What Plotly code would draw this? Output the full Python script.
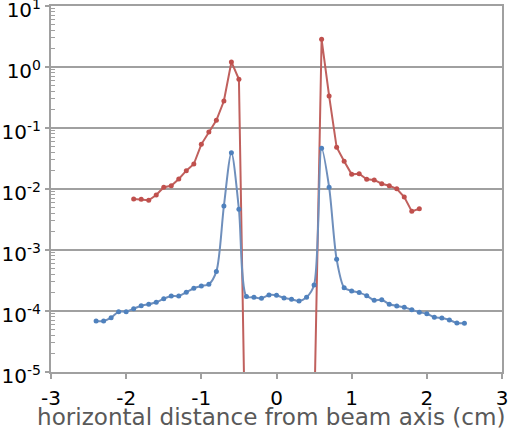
import plotly.graph_objects as go

# Horizontal profile across the beam axis (cm)
x_red = [-1.9, -1.8, -1.7, -1.6, -1.5, -1.4, -1.3, -1.2, -1.1, -1.0,
         -0.9, -0.8, -0.7, -0.6, -0.5, -0.4,
         0.5, 0.6, 0.7, 0.8, 0.9, 1.0, 1.1, 1.2, 1.3, 1.4, 1.5, 1.6, 1.7, 1.8, 1.9]
y_red = [6.86e-3, 6.78e-3, 6.53e-3, 7.97e-3, 1.07e-2, 1.13e-2, 1.46e-2, 2.0e-2, 2.57e-2, 5.4e-2,
         8.6e-2, 0.134, 0.277, 1.21, 0.629, 4e-8,
         1.4e-6, 2.85, 0.335, 0.0483, 0.0285, 0.0174, 0.0178, 0.0144, 0.0141, 0.0122, 0.0113,
         0.0101, 7.4e-3, 4.3e-3, 4.75e-3]

x_blue = [-2.4, -2.3, -2.2, -2.1, -2.0, -1.9, -1.8, -1.7, -1.6, -1.5,
          -1.4, -1.3, -1.2, -1.1, -1.0, -0.9, -0.8, -0.7, -0.6, -0.5,
          -0.4, -0.3, -0.2, -0.1, 0.0, 0.1, 0.2, 0.3, 0.4, 0.5,
          0.6, 0.7, 0.8, 0.9, 1.0, 1.1, 1.2, 1.3, 1.4, 1.5,
          1.6, 1.7, 1.8, 1.9, 2.0, 2.1, 2.2, 2.3, 2.4, 2.5]
y_blue = [6.86e-5, 6.86e-5, 7.76e-5, 9.75e-5, 9.75e-5, 1.09e-4, 1.22e-4, 1.29e-4, 1.39e-4, 1.59e-4,
          1.76e-4, 1.76e-4, 2.03e-4, 2.36e-4, 2.57e-4, 2.74e-4, 4.45e-4, 5.26e-3, 3.94e-2, 4.65e-3,
          1.73e-4, 1.68e-4, 1.62e-4, 1.83e-4, 1.81e-4, 1.63e-4, 1.56e-4, 1.46e-4, 1.68e-4, 2.67e-4,
          4.65e-2, 1.07e-2, 7.05e-4, 2.41e-4, 2.13e-4, 2.0e-4, 1.78e-4, 1.5e-4, 1.53e-4, 1.29e-4,
          1.21e-4, 1.15e-4, 1.05e-4, 9.53e-5, 9.03e-5, 7.88e-5, 7.68e-5, 7.12e-5, 6.36e-5, 6.28e-5]

x_tickvals = [-3, -2, -1, 0, 1, 2, 3]
x_ticktext = ["-3", "-2", "-1", "0", "1", "2", "3"]
y_tickvals = [1e-5, 1e-4, 1e-3, 1e-2, 1e-1, 1e0, 1e1]
y_ticktext = ["10<sup>-5</sup>", "10<sup>-4</sup>", "10<sup>-3</sup>", "10<sup>-2</sup>",
              "10<sup>-1</sup>", "10<sup>0</sup>", "10<sup>1</sup>"]
y_minor = [k * 10.0 ** e for e in range(-5, 1) for k in range(2, 10)]

FONT = "DejaVu Sans"
AXIS_GRAY = "#A0A0A0"

fig = go.Figure()
fig.add_trace(go.Scatter(
    x=x_red, y=y_red, mode="lines+markers",
    line=dict(color="#C0605D", width=2),
    marker=dict(color="#C0504D", size=5),
    showlegend=False,
))
fig.add_trace(go.Scatter(
    x=x_blue, y=y_blue, mode="lines+markers",
    line=dict(color="#6F8FBC", width=2, shape="spline", smoothing=0.8),
    marker=dict(color="#4F81BD", size=5),
    showlegend=False,
))

fig.update_layout(
    width=508, height=431,
    margin=dict(l=51, r=6, t=6, b=59),
    paper_bgcolor="white", plot_bgcolor="white",
    font=dict(family=FONT, size=20, color="black"),
)
fig.update_xaxes(
    range=[-3, 3], tickmode="array", tickvals=x_tickvals, ticktext=x_ticktext,
    showgrid=False, zeroline=False, automargin=False,
    showline=True, linecolor=AXIS_GRAY, linewidth=2, mirror=True,
    ticks="outside", ticklen=5, tickwidth=2, tickcolor=AXIS_GRAY,
    ticklabelstandoff=2, ticklabeloverflow="allow",
    tickfont=dict(family=FONT, size=20, color="black"),
)
fig.update_yaxes(
    type="log", range=[-5.0004, 1.0004], tickmode="array", tickvals=y_tickvals, ticktext=y_ticktext,
    showgrid=True, gridcolor=AXIS_GRAY, gridwidth=2, zeroline=False, automargin=False,
    showline=True, linecolor=AXIS_GRAY, linewidth=2, mirror=True,
    ticks="outside", ticklen=4, tickwidth=2, tickcolor=AXIS_GRAY,
    ticklabeloverflow="allow", ticklabelshift=4,
    tickfont=dict(family=FONT, size=20, color="black"),
    minor=dict(tickmode="array", tickvals=y_minor, ticks="inside", ticklen=4,
               tickwidth=1, tickcolor=AXIS_GRAY, showgrid=False),
)

# x-axis title, set a little left of the plot centre
fig.add_annotation(
    text="horizontal distance from beam axis (cm)",
    xref="paper", yref="paper", x=0.4889, y=-0.165,
    xanchor="center", yanchor="bottom", showarrow=False,
    font=dict(family=FONT, size=23.1, color="#595959"),
)

# Title sits above the top edge of the page
fig.add_annotation(
    text="Deposited energy [GeV/cm<sup>3</sup>/pp]",
    xref="paper", yref="paper", x=0.875, y=1.0118,
    xanchor="right", yanchor="bottom", showarrow=False,
    font=dict(family=FONT, size=20, color="black"),
)

fig.write_html("out.html")
